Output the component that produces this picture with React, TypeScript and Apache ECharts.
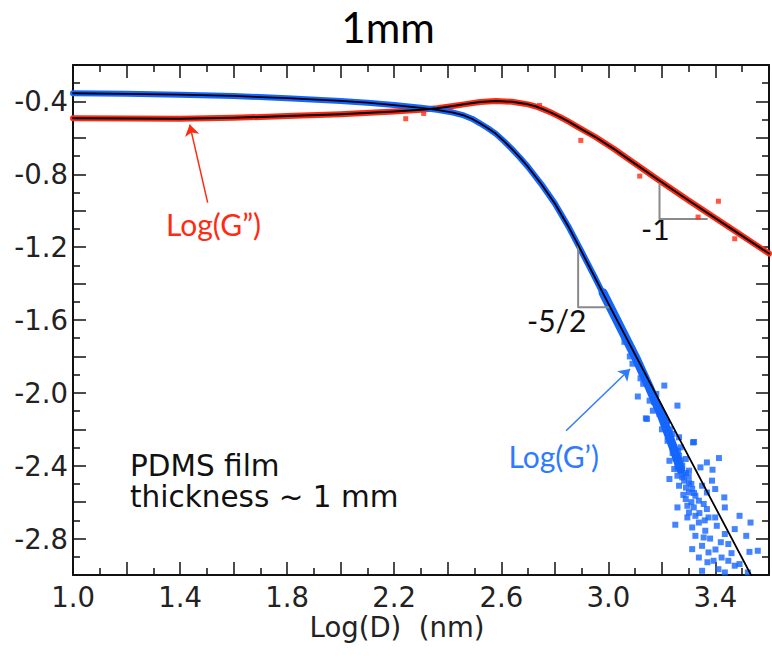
import React, { useEffect, useRef } from "react";
import * as echarts from "echarts";

const xLabels = ["1.0", "1.4", "1.8", "2.2", "2.6", "3.0", "3.4"];
const yLabels = ["-0.4", "-0.8", "-1.2", "-1.6", "-2.0", "-2.4", "-2.8"];

// black fit curves
const blueFit = [
  [1.0, -0.355], [1.2, -0.358], [1.4, -0.363], [1.6, -0.37], [1.8, -0.382], [2.0, -0.397],
  [2.1, -0.407], [2.2, -0.42], [2.3, -0.435], [2.36, -0.446], [2.42, -0.461], [2.46, -0.477],
  [2.49, -0.495], [2.52, -0.52], [2.55, -0.547], [2.58, -0.578], [2.61, -0.618], [2.64, -0.662],
  [2.67, -0.709], [2.7, -0.76], [2.75, -0.855], [2.8, -0.96], [2.85, -1.085], [2.9, -1.225],
  [2.95, -1.367], [3.0, -1.51], [3.1, -1.79], [3.2, -2.07], [3.3, -2.35], [3.4, -2.63], [3.54, -3.02],
];
const redFit = [
  [1.0, -0.492], [1.2, -0.494], [1.4, -0.495], [1.6, -0.49], [1.8, -0.48], [2.0, -0.47],
  [2.2, -0.455], [2.3, -0.446], [2.36, -0.437], [2.42, -0.425], [2.46, -0.416], [2.52, -0.403],
  [2.58, -0.398], [2.64, -0.402], [2.7, -0.416], [2.73, -0.428], [2.76, -0.445], [2.79, -0.464],
  [2.82, -0.486], [2.85, -0.51], [2.88, -0.535], [2.95, -0.594], [3.02, -0.66], [3.08, -0.722],
  [3.19, -0.834], [3.3, -0.944], [3.45, -1.09], [3.6, -1.235],
];

// dense measured bands
const blueBand = [
  [1.0, -0.355], [1.2, -0.358], [1.4, -0.363], [1.6, -0.37], [1.8, -0.382], [2.0, -0.397],
  [2.1, -0.407], [2.2, -0.42], [2.3, -0.435], [2.36, -0.446], [2.42, -0.461], [2.46, -0.477],
  [2.49, -0.495], [2.52, -0.52], [2.55, -0.547], [2.58, -0.578], [2.61, -0.618], [2.64, -0.662],
  [2.67, -0.709], [2.7, -0.76], [2.75, -0.855], [2.8, -0.96], [2.85, -1.085], [2.9, -1.225],
  [2.95, -1.367], [3.0, -1.515], [3.05, -1.66], [3.1, -1.8], [3.16, -1.98], [3.22, -2.16],
];
const blueBandWide = [
  [2.98, -1.45], [3.05, -1.655], [3.1, -1.8], [3.15, -1.96], [3.2, -2.13], [3.24, -2.29], [3.27, -2.42],
];
const redBand = redFit;

const blueScatter = [
  [3.09, -1.84], [3.11, -2.02], [3.14, -2.14], [3.209, -1.96], [3.258, -2.07], [3.32, -2.27],
  [3.144, -2.143], [3.191, -2.116], [3.215, -2.171], [3.24, -2.226], [3.316, -2.272], [3.221, -2.263],
  [3.166, -2.098], [3.154, -2.043], [3.179, -2.006], [3.264, -2.244], [3.228, -2.373], [3.252, -2.327],
  [3.413, -2.358], [3.368, -2.382], [3.344, -2.409], [3.258, -2.409], [3.276, -2.464], [3.228, -2.473],
  [3.25, -2.724], [3.258, -2.629], [3.389, -2.422], [3.433, -2.574], [3.435, -2.629], [3.49, -2.675],
  [3.531, -2.712], [3.515, -2.785], [3.472, -2.748], [3.558, -2.867], [3.527, -2.873], [3.399, -2.684],
  [3.405, -2.73], [3.435, -2.775], [3.448, -2.83], [3.374, -2.684], [3.362, -2.757], [3.313, -2.739],
  [3.325, -2.785], [3.356, -2.794], [3.35, -2.84], [3.313, -2.858], [3.338, -2.904], [3.374, -2.876],
  [3.393, -2.922], [3.423, -2.904], [3.448, -2.922], [3.472, -2.949], [3.49, -2.94], [3.411, -2.968],
  [3.35, -2.977], [3.435, -2.986], [3.521, -2.986], [3.301, -2.547], [3.325, -2.565], [3.289, -2.583],
  [3.338, -2.592], [3.356, -2.61], [3.368, -2.638], [3.301, -2.657], [3.325, -2.675], [3.338, -2.712],
  [3.295, -2.684], [3.264, -2.51], [3.283, -2.482], [3.301, -2.492], [3.313, -2.528], [3.276, -2.4],
  [3.301, -2.427], [3.289, -2.363], [3.264, -2.345], [3.246, -2.308], [3.27, -2.299], [3.246, -2.418],
  [3.258, -2.455], [3.387, -2.482], [3.399, -2.528], [3.295, -2.62], [3.319, -2.629], [3.368, -2.547],
  [3.35, -2.51], [3.06, -1.72], [3.08, -1.8], [3.12, -1.92], [3.13, -1.95], [3.17, -2.05],
  [3.19, -2.1], [3.2, -2.2], [3.23, -2.2], [3.24, -2.33], [3.25, -2.36], [3.26, -2.39],
  [3.27, -2.43], [3.28, -2.45], [3.29, -2.44], [3.27, -2.37], [3.26, -2.32], [3.3, -2.46],
  [3.31, -2.5], [3.32, -2.55], [3.29, -2.52], [3.34, -2.66], [3.31, -2.6], [3.28, -2.56],
  [3.36, -2.7], [3.38, -2.8], [3.4, -2.86], [3.42, -2.82], [3.46, -2.88], [3.37, -2.93],
];
const redScatter = [
  [2.243, -0.495], [2.31, -0.466], [2.743, -0.422], [2.897, -0.614], [3.117, -0.81],
  [3.411, -0.948], [3.335, -1.035], [3.472, -1.154],
];

// slope triangles and arrows (data coordinates)
const slopeTriangle52 = [[2.887, -1.19], [2.887, -1.53], [3.007, -1.53]];
const slopeTriangle1 = [[3.191, -0.852], [3.191, -1.045], [3.368, -1.045]];
const redArrow = [[1.503, -0.956], [1.436, -0.527]];
const blueArrow = [[2.842, -2.208], [3.081, -1.869]];

const RED = "#ff2a12";
const BLUE = "#1565ff";
const AX = "#111";
const HELV = "DejaVu Sans";

function axisCommon() {
  return {
    type: "value",
    axisLine: { show: true, onZero: false, lineStyle: { color: AX, width: 2 } },
    axisTick: { show: true, inside: true, length: 13, lineStyle: { color: AX, width: 1.5 } },
    minorTick: { show: true, splitNumber: 2, length: 7, lineStyle: { color: AX, width: 1.5 } },
    splitLine: { show: false },
    minorSplitLine: { show: false },
  } as any;
}

export default function App() {
  const ref = useRef<HTMLDivElement>(null);
  useEffect(() => {
    if (!ref.current) return;
    const chart = echarts.init(ref.current, null, { renderer: "svg" });
    const labelFont = { fontSize: 27.5, color: "#222", fontFamily: HELV };
    const xFmt = (v: number) => {
      const s = v.toFixed(1);
      return xLabels.includes(s) ? s : "";
    };
    const yFmt = (v: number) => {
      const s = v.toFixed(1);
      return yLabels.includes(s) ? s : "";
    };
    const lineSeries = (data: number[][], color: string, width: number, z: number) => ({
      type: "line", data, showSymbol: false, smooth: false,
      lineStyle: { color, width, cap: "round", join: "round" }, z, silent: true,
    });
    const option: any = {
      animation: false,
      grid: { left: 73, top: 65, width: 708.5, height: 510 },
      xAxis: [
        { ...axisCommon(), position: "bottom", min: 1.0, max: 3.6, interval: 0.2,
          axisLabel: { ...labelFont, formatter: xFmt, margin: 8, showMinLabel: true, showMaxLabel: true } },
        { ...axisCommon(), position: "top", min: 1.0, max: 3.6, interval: 0.2,
          axisLabel: { show: false } },
      ],
      yAxis: [
        { ...axisCommon(), position: "left", min: -3.0, max: -0.2, interval: 0.2,
          axisLabel: { ...labelFont, formatter: yFmt, margin: 5, showMinLabel: true, showMaxLabel: true } },
        { ...axisCommon(), position: "right", min: -3.0, max: -0.2, interval: 0.2,
          axisLabel: { show: false } },
      ],
      series: [
        lineSeries(redBand, RED, 6, 1),
        lineSeries(blueBand, BLUE, 6, 1),
        lineSeries(blueBandWide, BLUE, 9, 1),
        { type: "scatter", data: redScatter, symbol: "rect", symbolSize: 5,
          itemStyle: { color: RED }, z: 2 },
        { type: "scatter", data: blueScatter, symbol: "rect", symbolSize: 6,
          itemStyle: { color: BLUE }, z: 2 },
        lineSeries(redFit, "#000", 2, 3),
        lineSeries(blueFit, "#000", 1.8, 3),
        lineSeries(slopeTriangle52, "#8a8a8a", 2, 2),
        lineSeries(slopeTriangle1, "#8a8a8a", 2, 2),
        { type: "lines", coordinateSystem: "cartesian2d", symbol: ["none", "arrow"], symbolSize: 11,
          data: [{ coords: redArrow, lineStyle: { color: RED } }, { coords: blueArrow, lineStyle: { color: "#2f7bff" } }],
          lineStyle: { width: 1.5, opacity: 1, curveness: 0 }, z: 4 },
      ],
      graphic: [
        { type: "text", x: 388, y: 27, style: { text: "1mm", fontSize: 42, fontFamily: "Lato", fill: "#000", align: "center", verticalAlign: "middle" } },
        { type: "text", x: 166, y: 224, style: { text: "Log(G\u201D)", fontSize: 30, fontFamily: "Lato", fill: RED, align: "left", verticalAlign: "middle" } },
        { type: "text", x: 599, y: 456, style: { text: "Log(G\u2019)", fontSize: 30, fontFamily: "Lato", fill: "#2f7bff", align: "right", verticalAlign: "middle" } },
        { type: "text", x: 527, y: 320, style: { text: "-5/2", fontSize: 30, fontFamily: "Lato", fill: "#111", align: "left", verticalAlign: "middle" } },
        { type: "text", x: 641, y: 228, style: { text: "-1", fontSize: 30, fontFamily: "Lato", fill: "#111", align: "left", verticalAlign: "middle" } },
        { type: "text", x: 130, y: 466, style: { text: "PDMS film", fontSize: 29.5, fontFamily: HELV, fill: "#111", align: "left", verticalAlign: "middle" } },
        { type: "text", x: 130, y: 497, style: { text: "thickness ~ 1 mm", fontSize: 29.5, fontFamily: HELV, fill: "#111", align: "left", verticalAlign: "middle" } },
        { type: "text", x: 397, y: 627, style: { text: "Log(D)  (nm)", fontSize: 27.5, fontFamily: HELV, fill: "#222", align: "center", verticalAlign: "middle" } },
      ],
    };
    chart.setOption(option);
    return () => chart.dispose();
  }, []);
  return (
    <div
      ref={ref}
      style={{ position: "fixed", left: 0, top: 0, width: 772, height: 664, background: "#fff", overflow: "hidden" }}
    />
  );
}
